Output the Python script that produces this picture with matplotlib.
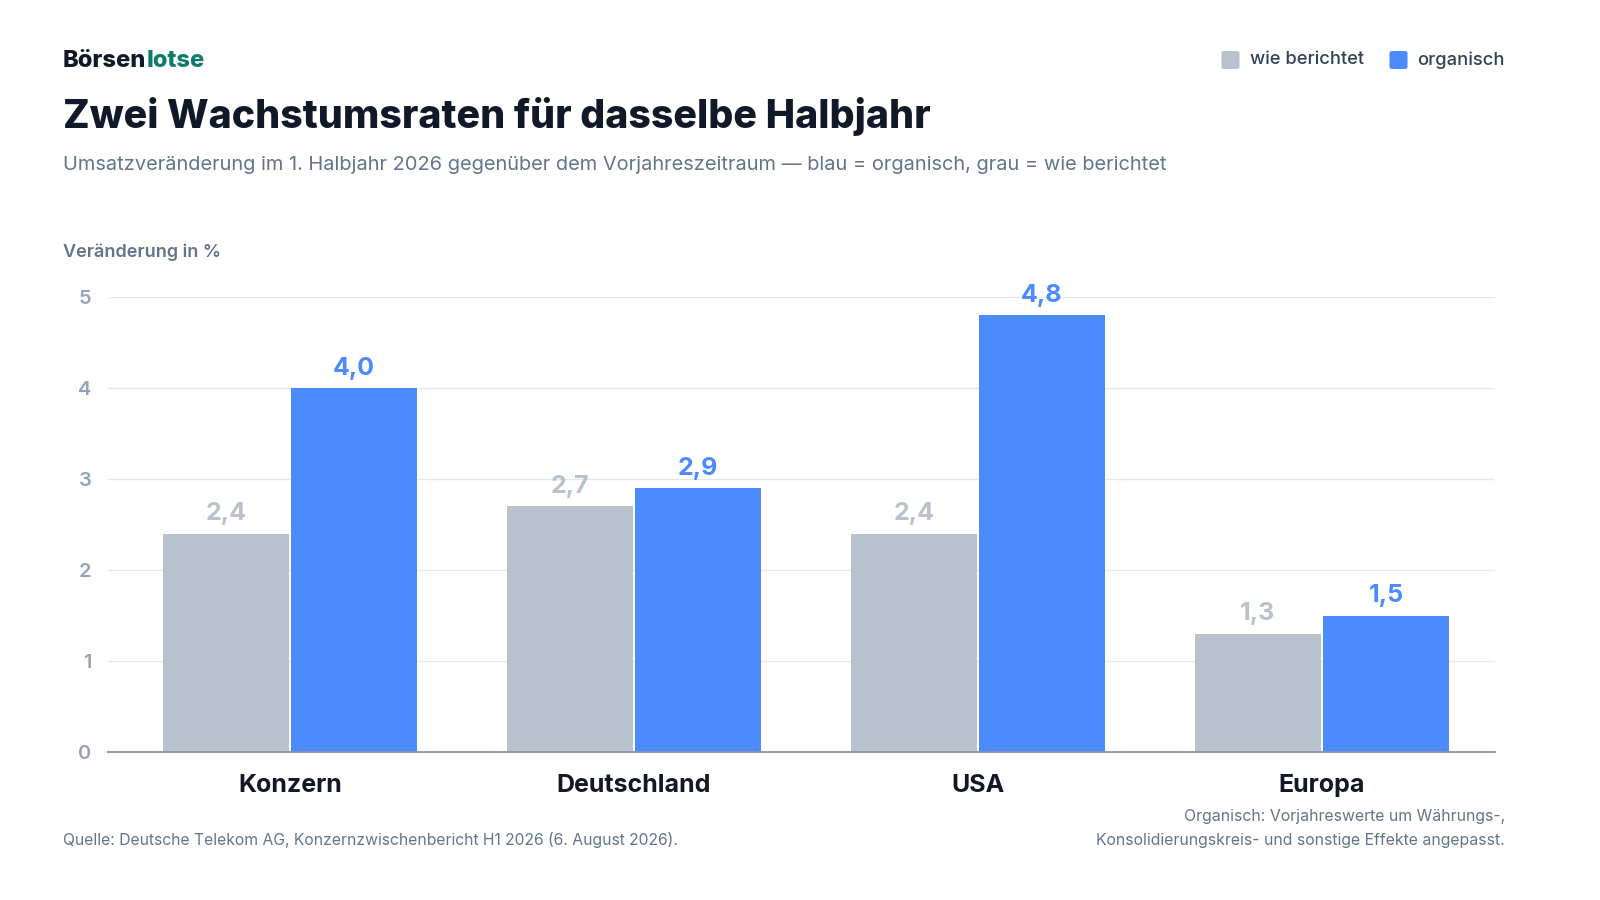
import matplotlib
matplotlib.use("Agg")
import matplotlib.pyplot as plt
from matplotlib.patches import FancyBboxPatch
import numpy as np

categories = ["Konzern", "Deutschland", "USA", "Europa"]
reported = [2.4, 2.7, 2.4, 1.3]
organic = [4.0, 2.9, 4.8, 1.5]
yticks = [0, 1, 2, 3, 4, 5]
series_names = ["wie berichtet", "organisch"]

GRAY = "#b8c2cc"
BLUE = "#4b8bff"
DARK = "#111827"
MUTED = "#64748b"

plt.rcParams['font.family'] = ['Inter', 'DejaVu Sans']

fig = plt.figure(figsize=(16, 9), dpi=100)
W, H = 1600, 900
def fx(px): return px / W
def fy(py): return 1 - py / H

ax = fig.add_axes([fx(108), fy(752), fx(1495) - fx(108), fy(297) - fy(752)])
x = np.arange(len(categories))
bw = 0.366
gap = 0.003
ax.bar(x - bw / 2 - gap, reported, bw, color=GRAY, zorder=3)
ax.bar(x + bw / 2 + gap, organic, bw, color=BLUE, zorder=3)

def fmt(v):
    return f"{v:.1f}".replace(".", ",")

for xi, v in zip(x - bw / 2 - gap, reported):
    ax.annotate(fmt(v), (xi, v), xytext=(0, 6), textcoords="offset points",
                ha="center", va="bottom", fontsize=18, fontweight="bold",
                color=GRAY, annotation_clip=False)
for xi, v in zip(x + bw / 2 + gap, organic):
    ax.annotate(fmt(v), (xi, v), xytext=(0, 6), textcoords="offset points",
                ha="center", va="bottom", fontsize=18, fontweight="bold",
                color=BLUE, annotation_clip=False)

ax.set_ylim(0, 5)
ax.set_xlim(-0.529, 3.503)
ax.set_yticks(yticks)
ax.set_yticklabels([str(t) for t in yticks], fontsize=14.5, fontweight="semibold", color="#94a3b8")
ax.set_xticks(x)
ax.set_xticklabels(categories, fontsize=18, fontweight="bold", color=DARK)
ax.tick_params(axis="both", length=0)
ax.tick_params(axis="x", pad=16)
ax.tick_params(axis="y", pad=12)
ax.grid(axis="y", color="#e5e7eb", linewidth=1, zorder=0)
for s in ["top", "right", "left"]:
    ax.spines[s].set_visible(False)
ax.spines["bottom"].set_color("#8891a8")
ax.spines["bottom"].set_linewidth(1.3)
ax.spines["bottom"].set_zorder(4)

# Header
t1 = fig.text(fx(63), fy(61), "Börsen", fontsize=17, fontweight="heavy", color=DARK, va="center", ha="left")
fig.canvas.draw()
bb = t1.get_window_extent()
fig.text(bb.x1 / W, fy(61), "lotse", fontsize=17, fontweight="heavy", color="#0f7b6c", va="center", ha="left")

fig.text(fx(63), fy(116), "Zwei Wachstumsraten für dasselbe Halbjahr", fontsize=28.3,
         fontweight="heavy", color=DARK, va="center", ha="left")
fig.text(fx(63), fy(165), "Umsatzveränderung im 1. Halbjahr 2026 gegenüber dem Vorjahreszeitraum — blau = organisch, grau = wie berichtet",
         fontsize=14.4, color=MUTED, va="center", ha="left")
fig.text(fx(63), fy(252), "Veränderung in %", fontsize=13, fontweight="semibold", color=MUTED, va="center", ha="left")

# Legend (right-aligned)
lt2 = fig.text(fx(1505), fy(60), series_names[1], fontsize=13.2, fontweight="medium", color="#334155", va="center", ha="right")
fig.canvas.draw()
b2 = lt2.get_window_extent()
sq = 18
fig.patches.append(FancyBboxPatch(((b2.x0 - 10 - sq) / W, fy(60) - sq / 2 / H), sq / W, sq / H,
                                  boxstyle="round,pad=0,rounding_size=0.002", transform=fig.transFigure,
                                  facecolor=BLUE, edgecolor="none"))
lt1 = fig.text((b2.x0 - 10 - sq - 26) / W, fy(60), series_names[0], fontsize=13.2, fontweight="medium", color="#334155", va="center", ha="right")
fig.canvas.draw()
b1 = lt1.get_window_extent()
fig.patches.append(FancyBboxPatch(((b1.x0 - 10 - sq) / W, fy(60) - sq / 2 / H), sq / W, sq / H,
                                  boxstyle="round,pad=0,rounding_size=0.002", transform=fig.transFigure,
                                  facecolor=GRAY, edgecolor="none"))

# Footer
fig.text(fx(63), fy(840), "Quelle: Deutsche Telekom AG, Konzernzwischenbericht H1 2026 (6. August 2026).",
         fontsize=11.3, color=MUTED, va="center", ha="left")
fig.text(fx(1505), fy(816), "Organisch: Vorjahreswerte um Währungs-,", fontsize=11.4, color=MUTED, va="center", ha="right")
fig.text(fx(1505), fy(840), "Konsolidierungskreis- und sonstige Effekte angepasst.", fontsize=11.4, color=MUTED, va="center", ha="right")

fig.savefig("out.png", dpi=100, facecolor="white")
